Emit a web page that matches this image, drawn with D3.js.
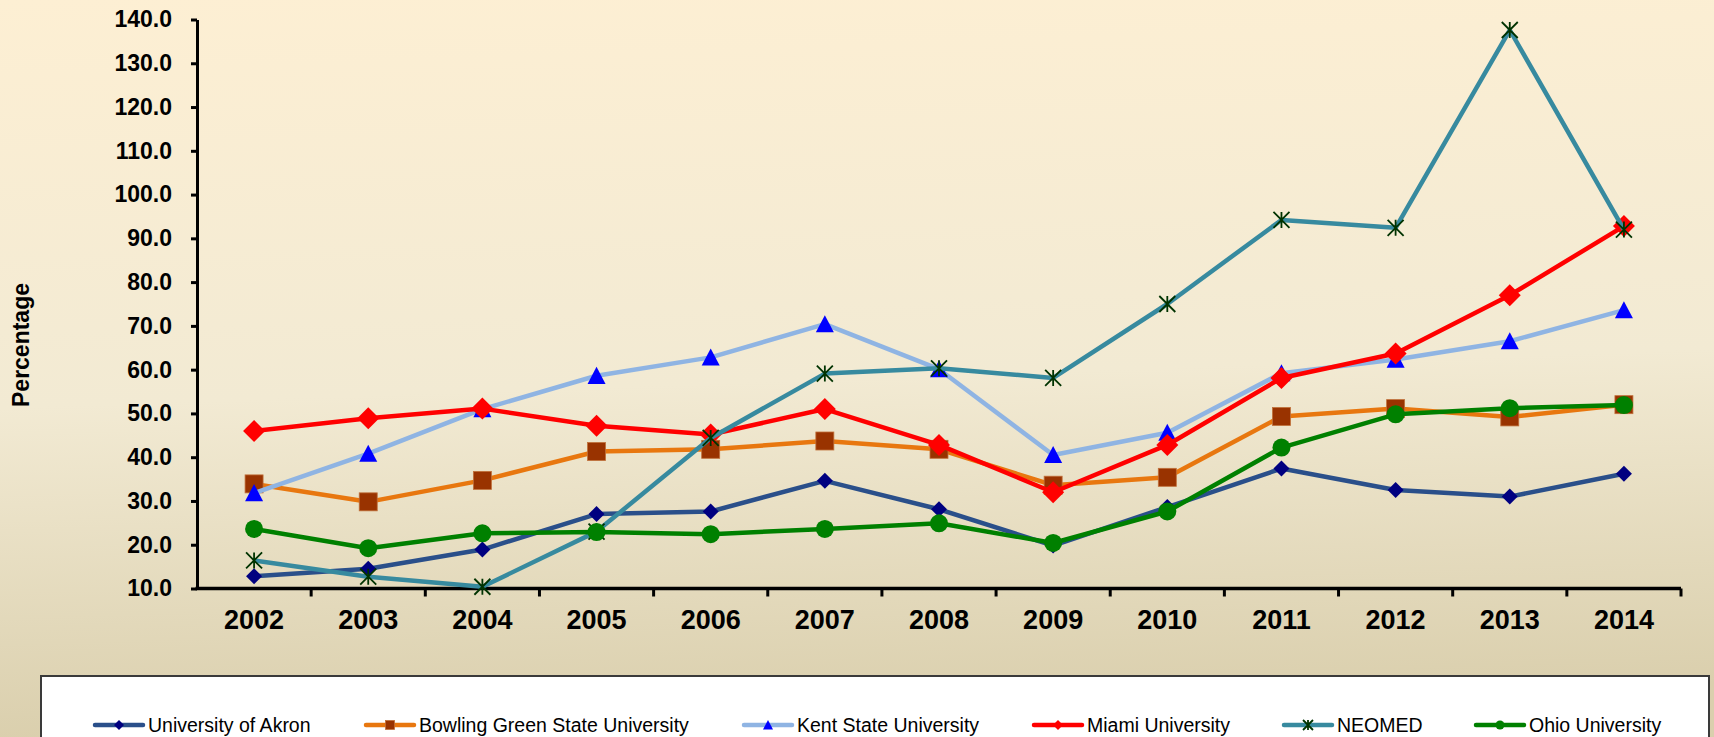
<!DOCTYPE html>
<html>
<head>
<meta charset="utf-8">
<script src="https://cdn.jsdelivr.net/npm/d3@7"></script>
<style>
  html, body { margin: 0; padding: 0; overflow: hidden; }
  svg { display: block; font-family: Arial, "Liberation Sans", sans-serif; }
</style>
</head>
<body>
<svg id="canvas" width="1714" height="737"></svg>
<script>
// data
let years = ['2002','2003','2004','2005','2006','2007','2008','2009','2010','2011','2012','2013','2014']
let akron  = [12.8, 14.5, 18.9, 27.0, 27.6, 34.6, 28.1, 19.8, 28.6, 37.4, 32.5, 31.0, 36.2]
let bgsu   = [33.9, 29.8, 34.7, 41.3, 41.8, 43.7, 41.8, 33.6, 35.4, 49.3, 51.1, 49.2, 52.0]
let kent   = [31.8, 40.8, 51.0, 58.6, 62.8, 70.4, 60.1, 40.5, 45.6, 59.2, 62.3, 66.5, 73.6]
let miami  = [46.0, 48.9, 51.1, 47.2, 45.2, 51.0, 42.8, 32.0, 42.8, 58.1, 63.7, 77.0, 92.8]
let neomed = [16.4, 12.7, 10.4, 23.0, 44.4, 59.1, 60.3, 58.1, 75.0, 94.2, 92.4, 137.6, 92.0]
let ohio   = [23.6, 19.2, 22.6, 22.9, 22.4, 23.6, 24.9, 20.4, 27.6, 42.2, 49.8, 51.2, 51.9]

let seriesNames = ['University of Akron', 'Bowling Green State University', 'Kent State University',
                   'Miami University', 'NEOMED', 'Ohio University']
let yTicks = [10, 20, 30, 40, 50, 60, 70, 80, 90, 100, 110, 120, 130, 140]

let series = [
  {name: seriesNames[0], values: akron,  line: '#2a4f8a', fill: '#000080', shape: 'diamond', size: 8},
  {name: seriesNames[1], values: bgsu,   line: '#e8770f', fill: '#993300', shape: 'square', size: 9},
  {name: seriesNames[2], values: kent,   line: '#8fb4e3', fill: '#0000ff', shape: 'triangle', size: 9},
  {name: seriesNames[3], values: miami,  line: '#ff0000', fill: '#ff0000', shape: 'diamond', size: 11},
  {name: seriesNames[4], values: neomed, line: '#378a9f', fill: '#003300', shape: 'star', size: 8},
  {name: seriesNames[5], values: ohio,   line: '#008000', fill: '#008000', shape: 'circle', size: 9}
]

let canvas = d3.select('#canvas')

// background gradient
let defs = canvas.append('defs')
let grad = defs.append('linearGradient').attr('id', 'bg')
    .attr('x1', 0).attr('y1', 0).attr('x2', 0.08).attr('y2', 1)
grad.append('stop').attr('offset', '0%').attr('stop-color', '#fdefd3')
grad.append('stop').attr('offset', '55%').attr('stop-color', '#f2ead3')
grad.append('stop').attr('offset', '100%').attr('stop-color', '#dacfad')
canvas.append('rect').attr('width', 1714).attr('height', 737).attr('fill', 'url(#bg)')

let plotLeft = 197, plotRight = 1681, plotTop = 19.5, plotBottom = 588.5

let x = d3.scaleBand().domain(years).range([plotLeft, plotRight]).padding(0)
let y = d3.scaleLinear().domain([10, 140]).range([plotBottom, plotTop])

// y axis
let yAxis = canvas.append('g')
    .attr('transform', `translate(${plotLeft},0)`)
    .call(d3.axisLeft(y).tickValues(yTicks).tickFormat(d3.format('.1f')).tickSize(6).tickSizeOuter(0).tickPadding(19))
yAxis.select('.domain').attr('stroke', '#000').attr('stroke-width', 3)
yAxis.selectAll('.tick line').attr('stroke', '#000').attr('stroke-width', 3)
yAxis.selectAll('.tick text')
    .style('font-family', 'Arial, "Liberation Sans", sans-serif')
    .style('font-size', '23px').style('font-weight', 'bold').attr('fill', '#000')

// x axis line + boundary ticks
let xg = canvas.append('g')
xg.append('line').attr('x1', plotLeft - 1.5).attr('x2', plotRight).attr('y1', plotBottom).attr('y2', plotBottom)
    .attr('stroke', '#000').attr('stroke-width', 3.5)
let bounds = years.slice(1).map(d => x(d)).concat([plotRight])
xg.selectAll('.xt').data(bounds).enter().append('line')
    .attr('x1', d => d).attr('x2', d => d)
    .attr('y1', plotBottom).attr('y2', plotBottom + 8)
    .attr('stroke', '#000').attr('stroke-width', 3)
xg.selectAll('.xl').data(years).enter().append('text')
    .attr('x', d => x(d) + x.bandwidth() / 2)
    .attr('y', 629)
    .attr('text-anchor', 'middle')
    .style('font-size', '27px').style('font-weight', 'bold')
    .text(d => d)

// y title
canvas.append('text')
    .attr('transform', 'translate(29,345) rotate(-90)')
    .attr('text-anchor', 'middle')
    .style('font-size', '23px').style('font-weight', 'bold')
    .text('Percentage')

// marker drawing
let drawMarker = (g, shape, size, fill) => {
  if (shape === 'diamond') {
    g.append('path').attr('d', `M0,${-size}L${size},0L0,${size}L${-size},0Z`).attr('fill', fill)
  } else if (shape === 'square') {
    g.append('rect').attr('x', -size).attr('y', -size).attr('width', size * 2).attr('height', size * 2)
        .attr('fill', fill).attr('stroke', '#c0703a').attr('stroke-width', 0.8)
  } else if (shape === 'triangle') {
    g.append('path').attr('d', `M0,${-size}L${size},${size * 0.9}L${-size},${size * 0.9}Z`).attr('fill', fill)
  } else if (shape === 'circle') {
    g.append('circle').attr('r', size).attr('fill', fill)
  } else if (shape === 'star') {
    g.append('path')
        .attr('d', `M0,${-size}V${size}M${-size},${-size}L${size},${size}M${size},${-size}L${-size},${size}`)
        .attr('stroke', fill).attr('stroke-width', 1.8).attr('fill', 'none')
  }
}

let line = d3.line()
    .x((d, i) => x(years[i]) + x.bandwidth() / 2)
    .y(d => y(d))

series.forEach(s => {
  let g = canvas.append('g')
  g.append('path').datum(s.values)
      .attr('d', line)
      .attr('fill', 'none')
      .attr('stroke', s.line)
      .attr('stroke-width', 4.5)
      .attr('stroke-linejoin', 'round')
  s.values.forEach((v, i) => {
    let m = g.append('g').attr('transform', `translate(${x(years[i]) + x.bandwidth() / 2},${y(v)})`)
    drawMarker(m, s.shape, s.size, s.fill)
  })
})

// legend
let legend = canvas.append('g')
legend.append('rect').attr('x', 41).attr('y', 676).attr('width', 1668).attr('height', 90)
    .attr('fill', '#fff').attr('stroke', '#3a3a3a').attr('stroke-width', 2)
let legendX = [95, 366, 744, 1034, 1284, 1476]
series.forEach((s, i) => {
  let lg = legend.append('g').attr('transform', `translate(${legendX[i]},725)`)
  lg.append('line').attr('x1', 0).attr('x2', 48).attr('y1', 0).attr('y2', 0)
      .attr('stroke', s.line).attr('stroke-width', 4.5).attr('stroke-linecap', 'round')
  let m = lg.append('g').attr('transform', 'translate(24,0)')
  drawMarker(m, s.shape, s.shape === 'square' ? 4.5 : (s.shape === 'circle' ? 4.5 : 5), s.fill)
  lg.append('text').attr('x', 53).attr('y', 7)
      .style('font-size', '19.5px')
      .attr('fill', '#000')
      .text(s.name)
})
</script>
</body>
</html>
